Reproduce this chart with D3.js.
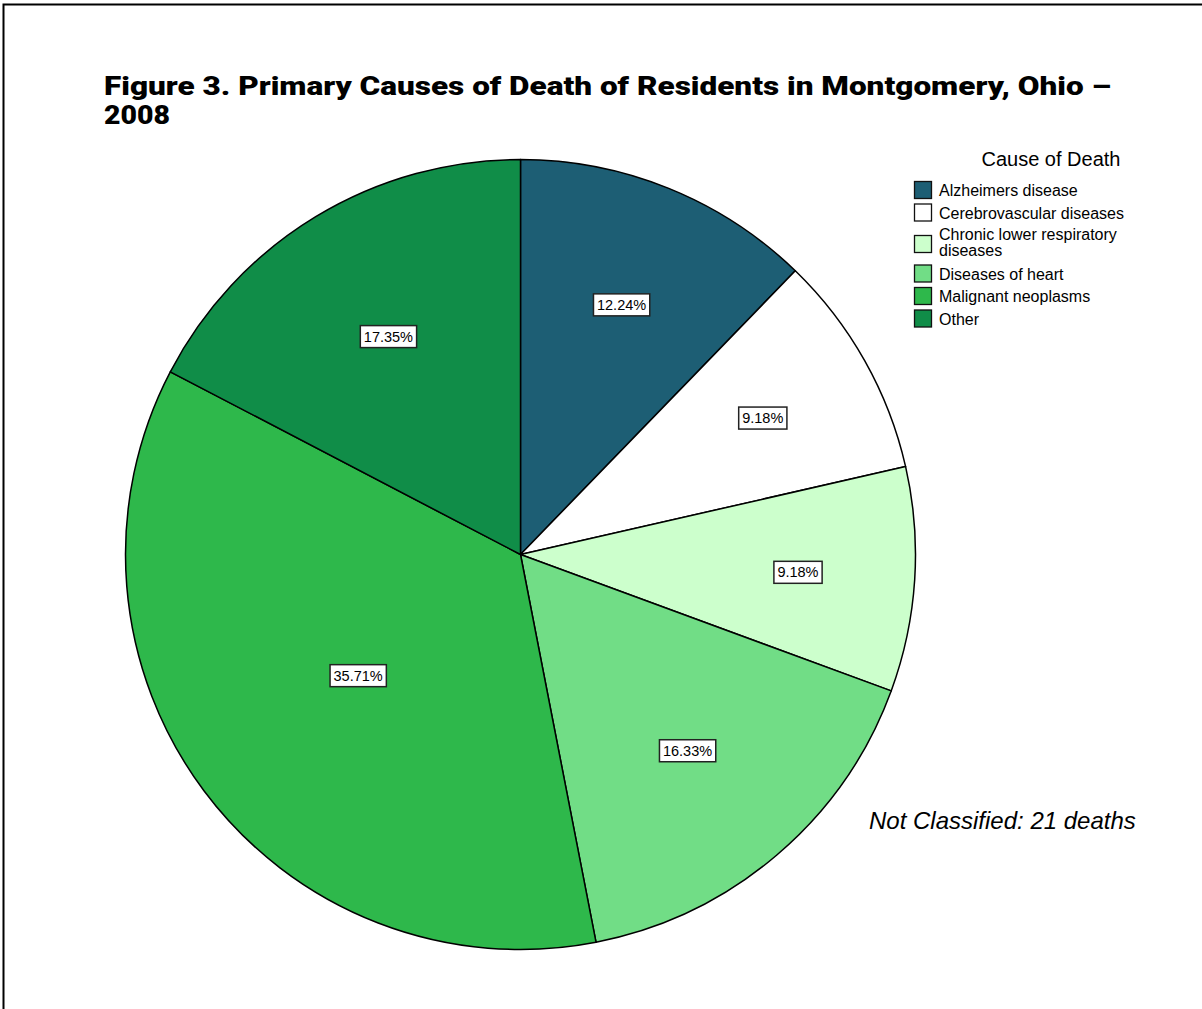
<!DOCTYPE html>
<html><head><meta charset="utf-8">
<script src="https://cdn.jsdelivr.net/npm/d3@7"></script>
<style>body{margin:0;background:#fff} svg{display:block}</style>
</head><body>
<svg id="c" width="1202" height="1009"></svg>
<script>
// ---- data ----
const categories = ["Alzheimers disease","Cerebrovascular diseases","Chronic lower respiratory diseases","Diseases of heart","Malignant neoplasms","Other"];
const deaths = [12, 9, 9, 16, 35, 17];
const legendLines = [["Alzheimers disease"],["Cerebrovascular diseases"],["Chronic lower respiratory","diseases"],["Diseases of heart"],["Malignant neoplasms"],["Other"]];
const sliceColors = ["#1d5e74","#ffffff","#ccffcc","#71dd86","#2eb84b","#108d48"];
const titleLines = ["Figure 3. Primary Causes of Death of Residents in Montgomery, Ohio \u2013","2008"];
const legendTitle = "Cause of Death";
const noteText = "Not Classified: 21 deaths";

// ---- layout ----
const svg = d3.select("#c");
const cx = 520.5, cy = 554.5, R = 395;

// frame (right/bottom edges fall outside the picture)
svg.append("rect").attr("x",3.5).attr("y",4.5).attr("width",1400).attr("height",1200)
  .attr("fill","none").attr("stroke","#000").attr("stroke-width",2);

// title
const tg = svg.append("g").attr("font-family","'Arial Black','Roboto','Liberation Sans',sans-serif")
  .attr("font-weight",900).attr("font-size",25).attr("fill","#000");
tg.append("text").attr("x",104).attr("y",95).attr("textLength",1007).attr("lengthAdjust","spacingAndGlyphs").text(titleLines[0]);
tg.append("text").attr("x",104).attr("y",124).attr("textLength",66).attr("lengthAdjust","spacingAndGlyphs").text(titleLines[1]);

const data = categories.map((c,i)=>({cat:c, v:deaths[i]}));
const total = d3.sum(deaths);
const color = d3.scaleOrdinal().domain(categories).range(sliceColors);
const pie = d3.pie().sort(null).value(d=>d.v);
const arcs = pie(data);
const arc = d3.arc().innerRadius(0).outerRadius(R);

const pg = svg.append("g").attr("transform",`translate(${cx},${cy})`);
pg.selectAll("path").data(arcs).join("path")
  .attr("d",arc).attr("fill",d=>color(d.data.cat))
  .attr("stroke","#000").attr("stroke-width",1.5).attr("stroke-linejoin","round");

// labels: radial placement shrinks for wider slices
const fmt = d3.format(".2%");
const lg = pg.append("g").attr("font-family","'Liberation Sans',Arial,sans-serif").attr("font-size",14.5);
arcs.forEach(a=>{
  const span = (a.endAngle - a.startAngle)*180/Math.PI;
  const mid = (a.startAngle + a.endAngle)/2;
  const rc = R*(0.77 - 0.002*span);
  const x = rc*Math.sin(mid), y = -rc*Math.cos(mid);
  const g = lg.append("g").attr("transform",`translate(${x},${y})`);
  const rect = g.append("rect");
  const t = g.append("text").attr("text-anchor","middle").attr("dy","0.35em").attr("fill","#000").text(fmt(a.data.v/total));
  const bb = t.node().getBBox();
  rect.attr("x",bb.x-3.5).attr("y",-11).attr("width",bb.width+7).attr("height",22)
    .attr("fill","#fff").attr("stroke","#222").attr("stroke-width",1.5);
});

// legend
const leg = svg.append("g").attr("font-family","'Liberation Sans',Arial,sans-serif").attr("fill","#000");
leg.append("text").attr("x",1051).attr("y",166).attr("text-anchor","middle").attr("font-size",20).text(legendTitle);
let rowTop = 181;
categories.forEach((c,i)=>{
  const lines = legendLines[i];
  const multi = lines.length > 1;
  const sy = multi ? rowTop + 9 : rowTop;
  leg.append("rect").attr("x",914.5).attr("y",sy+0.5).attr("width",17).attr("height",17)
    .attr("fill",color(c)).attr("stroke","#111").attr("stroke-width",1.3);
  lines.forEach((ln,j)=>{
    leg.append("text").attr("x",939).attr("y", (multi ? rowTop+14 : rowTop+15) + j*16)
      .attr("font-size",16).text(ln);
  });
  rowTop += multi ? 38.5 : 22.5;
});

// note
svg.append("text").attr("x",869).attr("y",829).attr("font-family","'Liberation Sans',Arial,sans-serif")
  .attr("font-style","italic").attr("font-size",24).attr("fill","#000").text(noteText);
</script>
</body></html>
